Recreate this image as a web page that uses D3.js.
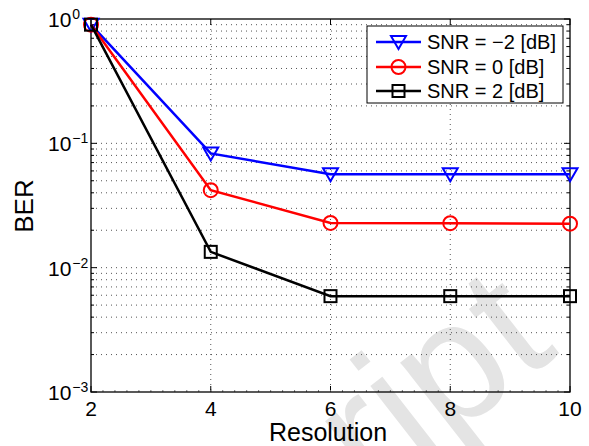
<!DOCTYPE html>
<html>
<head>
<meta charset="utf-8">
<script src="https://cdn.jsdelivr.net/npm/d3@7"></script>
<style>
body{margin:0;background:#fff;}
svg text{font-family:"Liberation Sans",Arial,sans-serif;}
</style>
</head>
<body>
<svg id="chart" width="589" height="446"></svg>
<script>
const resolution = [2, 4, 6, 8, 10];
const berSnrM2 = [0.9, 0.083, 0.0565, 0.0565, 0.0565];
const berSnr0  = [0.9, 0.042, 0.0229, 0.0228, 0.0226];
const berSnr2  = [0.9, 0.0134, 0.0059, 0.0059, 0.0059];
const seriesNames = ["SNR = \u22122 [dB]", "SNR = 0 [dB]", "SNR = 2 [dB]"];
const xTicks = [2, 4, 6, 8, 10];
const yTickExps = [0, -1, -2, -3];

const series = [
  {name: seriesNames[0], values: berSnrM2, color: "#0000ff", marker: "tri"},
  {name: seriesNames[1], values: berSnr0, color: "#ff0000", marker: "circle"},
  {name: seriesNames[2], values: berSnr2, color: "#000000", marker: "square"}
];

const svg = d3.select("#chart");
const L = 91, R = 570, T = 19, B = 392;
const x = d3.scaleLinear().domain([2, 10]).range([L, R]);
const y = d3.scaleLog().domain([1e-3, 1]).range([B, T]);

// watermark
svg.append("text").attr("transform", "translate(372,500) rotate(-38)")
  .attr("font-size", 172).attr("fill", "#e4e4e4").text("ript");

// grid
const g = svg.append("g");
const yMinor = [];
for (let e = -3; e < 0; e++) for (let m = 1; m <= 9; m++) yMinor.push(m * Math.pow(10, e));
yMinor.push(1);
g.selectAll(".hg").data(yMinor.filter(v => v > 1e-3 && v < 1)).enter().append("line")
  .attr("x1", L).attr("x2", R).attr("y1", d => y(d)).attr("y2", d => y(d))
  .attr("stroke", "#555").attr("stroke-width", 1).attr("stroke-dasharray", "1,4");
g.selectAll(".vg").data(xTicks.slice(1, -1)).enter().append("line")
  .attr("x1", d => x(d)).attr("x2", d => x(d)).attr("y1", T).attr("y2", B)
  .attr("stroke", "#555").attr("stroke-width", 1).attr("stroke-dasharray", "1,4");

// ticks inward
const tk = svg.append("g").attr("stroke", "#000").attr("stroke-width", 1);
yMinor.forEach(v => {
  const major = Math.abs(Math.log10(v) - Math.round(Math.log10(v))) < 1e-9;
  const len = major ? 6 : 3;
  tk.append("line").attr("x1", L).attr("x2", L + len).attr("y1", y(v)).attr("y2", y(v));
  tk.append("line").attr("x1", R).attr("x2", R - len).attr("y1", y(v)).attr("y2", y(v));
});
xTicks.forEach(v => {
  tk.append("line").attr("x1", x(v)).attr("x2", x(v)).attr("y1", B).attr("y2", B - 6);
  tk.append("line").attr("x1", x(v)).attr("x2", x(v)).attr("y1", T).attr("y2", T + 6);
});
d3.range(2, 10.001, 0.2).forEach(v => {
  tk.append("line").attr("x1", x(v)).attr("x2", x(v)).attr("y1", B).attr("y2", B - 2).attr("stroke", "#777");
});

// frame
svg.append("rect").attr("x", L).attr("y", T).attr("width", R - L).attr("height", B - T)
  .attr("fill", "none").attr("stroke", "#000").attr("stroke-width", 1.3);

// tick labels
xTicks.forEach(v => {
  svg.append("text").attr("x", x(v)).attr("y", 416).attr("text-anchor", "middle")
    .attr("font-size", 21).text(v);
});
yTickExps.forEach(e => {
  const t = svg.append("text").attr("x", 48).attr("y", y(Math.pow(10, e)) + 8)
    .attr("font-size", 21);
  t.append("tspan").text("10");
  t.append("tspan").attr("dx", 1).attr("dy", -8).attr("font-size", 14).text(e === 0 ? "0" : "\u2212" + Math.abs(e));
});

// axis labels
svg.append("text").attr("x", 328).attr("y", 441).attr("text-anchor", "middle")
  .attr("font-size", 25).text("Resolution");
svg.append("text").attr("transform", "translate(33,206) rotate(-90)").attr("text-anchor", "middle")
  .attr("font-size", 26).text("BER");

function drawMarker(sel, type, color) {
  if (type === "tri") {
    sel.append("path").attr("d", "M-7.5,-6 L7.5,-6 L0,7 Z");
  } else if (type === "circle") {
    sel.append("circle").attr("r", 7);
  } else {
    sel.append("rect").attr("x", -6).attr("y", -6).attr("width", 12).attr("height", 12);
  }
  sel.selectAll("path,circle,rect").attr("fill", "none").attr("stroke", color).attr("stroke-width", 2);
}

const line = d3.line().x((d, i) => x(resolution[i])).y(d => y(d));
series.forEach(s => {
  svg.append("path").attr("d", line(s.values)).attr("fill", "none")
    .attr("stroke", s.color).attr("stroke-width", 2.5);
  s.values.forEach((v, i) => {
    const m = svg.append("g").attr("transform", `translate(${x(resolution[i])},${y(v)})`);
    drawMarker(m, s.marker, s.color);
  });
});

// legend
const lg = svg.append("g");
lg.append("rect").attr("x", 367).attr("y", 26).attr("width", 196).attr("height", 77)
  .attr("fill", "#fff").attr("stroke", "#000").attr("stroke-width", 1);
const rowY = [42, 67, 91];
series.forEach((s, i) => {
  lg.append("line").attr("x1", 376).attr("x2", 421).attr("y1", rowY[i]).attr("y2", rowY[i])
    .attr("stroke", s.color).attr("stroke-width", 2.5);
  const m = lg.append("g").attr("transform", `translate(398.5,${rowY[i]})`);
  drawMarker(m, s.marker, s.color);
  lg.append("text").attr("x", 427).attr("y", rowY[i] + 7).attr("font-size", 20).text(s.name);
});
</script>
</body>
</html>
